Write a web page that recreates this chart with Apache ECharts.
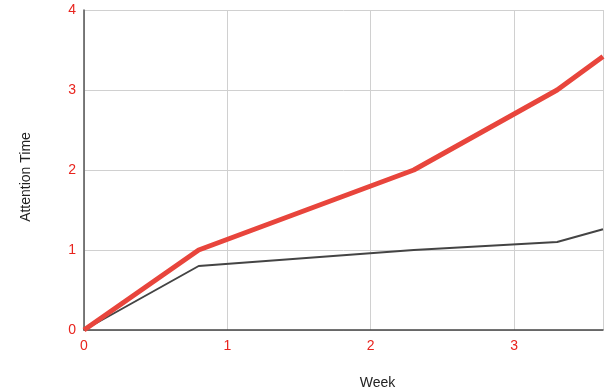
<!DOCTYPE html>
<html>
<head>
<meta charset="utf-8">
<script src="https://cdn.jsdelivr.net/npm/echarts@6/dist/echarts.min.js"></script>
<style>
  html, body { margin: 0; padding: 0; background: #fff; }
  #chart { width: 609px; height: 391px; }
</style>
</head>
<body>
<div id="chart"></div>
<script>
// Weekly attention time, two series
const weeks = [0, 0.8, 2.3, 3.3, 3.62];
const redSeries = [0, 1, 2, 3, 3.42];
const graySeries = [0, 0.8, 1.0, 1.1, 1.26];
const yTicks = [0, 1, 2, 3, 4];

const toPairs = (xs, ys) => xs.map((x, i) => [x, ys[i]]);

const chart = echarts.init(document.getElementById('chart'), null, { renderer: 'canvas' });
const labelRed = '#e8241e';
const font = 'Liberation Sans, Arial, sans-serif';

chart.setOption({
  animation: false,
  grid: { left: 84, right: 6, top: 10, bottom: 61, outerBoundsMode: 'none', containLabel: false },
  xAxis: {
    type: 'value',
    min: 0,
    max: 3.62,
    interval: 1,
    name: 'Week',
    nameLocation: 'middle',
    nameGap: 46,
    nameTextStyle: { color: '#222', fontSize: 14, fontFamily: font, padding: [0, 0, 0, 68] },
    axisLine: { show: true, lineStyle: { color: '#444', width: 1.5 } },
    axisTick: { show: false },
    axisLabel: { color: labelRed, fontSize: 14, fontFamily: font, margin: 9,
      formatter: v => (Number.isInteger(v) ? String(v) : '') },
    splitLine: { show: true, lineStyle: { color: '#d0d0d0', width: 1 } }
  },
  yAxis: {
    type: 'value',
    min: yTicks[0],
    max: yTicks[yTicks.length - 1],
    interval: 1,
    name: 'Attention Time',
    nameLocation: 'middle',
    nameGap: 51,
    nameTextStyle: { color: '#222', fontSize: 14, fontFamily: font, padding: [0, 14, 0, 0] },
    axisLine: { show: true, lineStyle: { color: '#555', width: 1.5 } },
    axisTick: { show: false },
    axisLabel: { color: labelRed, fontSize: 14, fontFamily: font, margin: 8 },
    splitLine: { show: true, lineStyle: { color: '#d0d0d0', width: 1 } }
  },
  series: [
    {
      type: 'line',
      data: toPairs(weeks, graySeries),
      symbol: 'none',
      lineStyle: { color: '#444', width: 2 },
      z: 2
    },
    {
      type: 'line',
      data: toPairs(weeks, redSeries),
      symbol: 'none',
      lineStyle: { color: '#e8453c', width: 5 },
      z: 3
    }
  ]
});
</script>
</body>
</html>
